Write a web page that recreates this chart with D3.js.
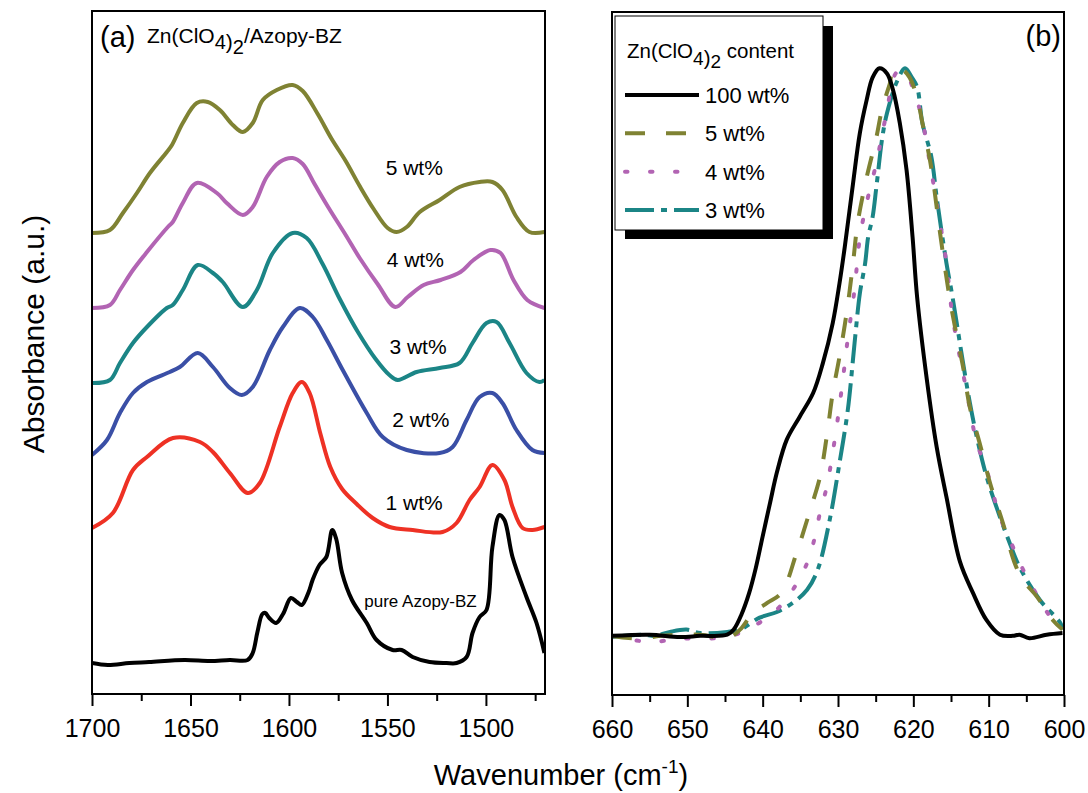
<!DOCTYPE html>
<html><head><meta charset="utf-8">
<script src="https://cdn.jsdelivr.net/npm/d3@7"></script>
<style>
body{margin:0;background:#fff}
svg{display:block}
text{font-family:"Liberation Sans",Arial,Helvetica,sans-serif;fill:#000}
</style>
</head><body>
<svg id="chart" width="1088" height="793"></svg>
<script>
// ---- Panel (a): stacked FTIR spectra, [wavenumber cm-1, absorbance a.u. incl. offset]
const purePoly = [[1700,0.31],[1692,0.29],[1681,0.31],[1671,0.32],[1653,0.34],[1640,0.33],[1630,0.34],[1621,0.34],[1618.4,0.41],[1616,0.62],[1613.5,0.80],[1612,0.81],[1610,0.76],[1606.5,0.71],[1603,0.80],[1599,0.96],[1596,0.92],[1593.5,0.89],[1590,1.02],[1588,1.14],[1584.5,1.29],[1581,1.37],[1578,1.64],[1576,1.55],[1573,1.21],[1568,0.94],[1560.5,0.71],[1555.5,0.54],[1547.4,0.44],[1542.8,0.44],[1537.2,0.37],[1528.6,0.32],[1520,0.31],[1514.9,0.31],[1509.8,0.37],[1506.8,0.61],[1503.2,0.77],[1499.7,0.84],[1496.7,1.47],[1493.1,1.79],[1490.6,1.74],[1486.5,1.37],[1479.4,0.97],[1474.3,0.71],[1470.3,0.41]];
const wt1 = [[1700,1.66],[1689.4,1.81],[1679.2,2.24],[1672.1,2.37],[1658.9,2.56],[1645.2,2.52],[1638.6,2.42],[1630,2.21],[1620.9,2.01],[1614.8,2.11],[1604.7,2.67],[1598.1,3.01],[1593.5,3.12],[1589.5,3.01],[1584,2.60],[1579,2.27],[1573,2.05],[1565.6,1.90],[1557.5,1.76],[1548.9,1.67],[1537.2,1.64],[1522,1.62],[1514.9,1.71],[1508.3,1.94],[1503.2,2.07],[1496.7,2.29],[1490.6,2.14],[1486.5,1.87],[1481.4,1.66],[1476.4,1.64],[1470.3,1.67]];
const wt2 = [[1700,2.39],[1692.4,2.54],[1685.8,2.81],[1679.2,3.01],[1672.1,3.12],[1660.5,3.22],[1655.4,3.27],[1646.3,3.41],[1638.6,3.27],[1630,3.06],[1623.9,2.99],[1618.4,3.07],[1609.7,3.44],[1603.1,3.67],[1594.5,3.86],[1587.9,3.77],[1580.8,3.54],[1572.7,3.24],[1560.5,2.81],[1552.4,2.57],[1540.2,2.44],[1523.5,2.41],[1516.9,2.47],[1509.8,2.74],[1503.2,2.97],[1496.7,3.01],[1491.6,2.91],[1484.5,2.64],[1476.4,2.44],[1470.3,2.41]];
const wt3 = [[1700,3.11],[1690.9,3.14],[1685.8,3.31],[1679.2,3.51],[1672.1,3.67],[1662,3.86],[1659,3.89],[1653.9,4.04],[1646.3,4.29],[1638.6,4.21],[1633.6,4.12],[1623.4,3.87],[1616.3,4.04],[1608.2,4.41],[1598.1,4.61],[1591,4.56],[1582.9,4.30],[1574.2,3.95],[1565,3.62],[1556,3.35],[1549,3.19],[1544.8,3.14],[1535.2,3.22],[1523.5,3.26],[1513.4,3.31],[1506.8,3.51],[1499.7,3.71],[1494.6,3.72],[1488,3.51],[1479.4,3.21],[1472.8,3.12],[1470.3,3.14]];
const wt4 = [[1700,3.86],[1690.9,3.89],[1685.8,4.04],[1679.2,4.24],[1672.1,4.42],[1661.5,4.67],[1659,4.72],[1653.9,4.91],[1646.8,5.11],[1636.6,5.01],[1631.6,4.91],[1623.4,4.79],[1618.4,4.87],[1611.3,5.17],[1604.7,5.32],[1598.1,5.36],[1593,5.30],[1587,5.10],[1579.8,4.86],[1571.2,4.59],[1564.1,4.36],[1555,4.10],[1546,3.87],[1539.7,3.97],[1531.6,4.09],[1523,4.14],[1512.9,4.22],[1506.3,4.34],[1497.7,4.44],[1492.6,4.41],[1486,4.14],[1479,3.94],[1470.3,3.86]];
const wt5 = [[1700,4.61],[1690.9,4.64],[1684.3,4.81],[1677.2,5.01],[1670.6,5.21],[1662,5.42],[1659.4,5.49],[1653.9,5.71],[1646.8,5.91],[1641.2,5.92],[1635.1,5.84],[1628.5,5.69],[1623.4,5.62],[1618.4,5.71],[1613.3,5.94],[1606.2,6.04],[1598.1,6.09],[1593,6.03],[1585.4,5.80],[1578.3,5.55],[1571.2,5.33],[1564.1,5.08],[1557,4.85],[1549.9,4.66],[1545.3,4.62],[1540.2,4.67],[1533.6,4.82],[1523.5,4.94],[1513.4,5.07],[1503.2,5.12],[1496.7,5.12],[1491.6,5.04],[1484.5,4.77],[1477.9,4.62],[1470.3,4.62]];

const seriesA = [
  {name:"pure Azopy-BZ", data:purePoly, color:"#000000", label:[1533.2,0.87], size:17, anchor:"middle"},
  {name:"1 wt%", data:wt1, color:"#ee3124", label:[1551,1.84], size:21, anchor:"start"},
  {name:"2 wt%", data:wt2, color:"#3a4fa6", label:[1547.5,2.67], size:21, anchor:"start"},
  {name:"3 wt%", data:wt3, color:"#1b8586", label:[1549,3.40], size:21, anchor:"start"},
  {name:"4 wt%", data:wt4, color:"#b264b3", label:[1550.4,4.27], size:21, anchor:"start"},
  {name:"5 wt%", data:wt5, color:"#7f8233", label:[1550.9,5.19], size:21, anchor:"start"}
];
const ticksA = [1700,1650,1600,1550,1500];
const minorA = [1675,1625,1575,1525,1475];

// ---- Panel (b): normalised band, [wavenumber cm-1, normalised absorbance]
const b100 = [[660,0],[655,0.002],[651,-0.002],[648.3,0],[644.7,0.002],[643.8,0.012],[642.8,0.038],[641.8,0.075],[640.9,0.120],[640,0.175],[639,0.235],[638.1,0.288],[636.8,0.345],[635.1,0.385],[633.3,0.427],[632,0.480],[630.7,0.550],[629.8,0.620],[629.1,0.684],[628,0.796],[627.1,0.884],[626.2,0.942],[625.4,0.982],[624.5,0.998],[623.5,0.989],[622.7,0.960],[621.8,0.902],[620.9,0.819],[620.1,0.701],[619.5,0.596],[618.2,0.450],[616.9,0.332],[615.6,0.244],[613.8,0.130],[612.1,0.076],[610.3,0.028],[608.5,0.002],[606.8,0],[605.9,0.002],[604.6,-0.004],[602.3,0.002],[600.2,0.005]];
const b5 = [[660,0],[656.3,-0.005],[653.6,0],[648.3,0.002],[644.7,-0.004],[643,0.011],[641.3,0.040],[639.4,0.058],[637.5,0.076],[635.5,0.146],[633.7,0.221],[632.4,0.279],[631.5,0.350],[630.7,0.427],[629.8,0.491],[628.8,0.573],[628,0.656],[627.4,0.725],[626.2,0.806],[624.9,0.877],[624.1,0.930],[623.1,0.972],[622.7,0.998],[621.4,0.995],[620.5,0.982],[619.5,0.947],[618.8,0.902],[617.8,0.837],[617.2,0.784],[616.5,0.713],[615.2,0.596],[614.2,0.525],[613.4,0.473],[612.5,0.402],[611.2,0.339],[609.8,0.268],[608.1,0.198],[606.6,0.130],[605.5,0.099],[603.6,0.069],[601.5,0.028],[600.2,0.011]];
const b4 = [[660,0],[657.9,-0.005],[655,-0.011],[651,-0.005],[644.7,-0.002],[641.7,0.014],[638.6,0.040],[636,0.081],[634.1,0.128],[633.1,0.172],[632.4,0.216],[631.5,0.262],[630.4,0.348],[629.5,0.435],[628.7,0.523],[627.8,0.610],[627.1,0.700],[626.2,0.761],[624.9,0.832],[624.2,0.878],[623.5,0.924],[622.9,0.965],[622.2,0.991],[621.1,0.991],[620.1,0.965],[618.9,0.912],[617.8,0.831],[616.5,0.730],[615.6,0.655],[614.8,0.562],[612.9,0.428],[611.6,0.341],[610.3,0.293],[608.5,0.209],[607,0.163],[605.6,0.121],[603.6,0.072],[601.5,0.028],[600.2,0.014]];
const b3 = [[660,-0.002],[655.9,0.002],[654.3,0],[652.3,0.007],[650.1,0.011],[648.3,0.005],[644.7,0.007],[643,0.011],[640.4,0.032],[638.1,0.042],[636,0.058],[634.1,0.081],[632.7,0.116],[631.1,0.204],[629.8,0.304],[628.7,0.397],[627.8,0.515],[627.1,0.602],[626.4,0.655],[626,0.701],[625.4,0.737],[624.9,0.790],[624.1,0.878],[623.5,0.919],[622.2,0.974],[621.1,0.998],[620.2,0.982],[619.5,0.965],[618.8,0.902],[617.6,0.842],[616.9,0.771],[615.6,0.655],[614.8,0.596],[613.4,0.480],[612.5,0.410],[611.6,0.351],[610.3,0.281],[608.5,0.209],[607.2,0.163],[605.9,0.121],[603.2,0.063],[600.5,0.023],[600.2,0.011]];

const seriesB = [
  {name:"100 wt%", data:b100, color:"#000000", dash:null, cap:"butt"},
  {name:"5 wt%", data:b5, color:"#7f8233", dash:"20,21", cap:"butt"},
  {name:"4 wt%", data:b4, color:"#b264b3", dash:"2.5,22.5", cap:"round"},
  {name:"3 wt%", data:b3, color:"#1b8586", dash:"29,7,6,7", cap:"butt"}
];
const ticksB = [660,650,640,630,620,610,600];
const minorB = [655,645,635,625,615,605];

const svg = d3.select("#chart");
const FONT = '"Liberation Sans",Arial,Helvetica,sans-serif';

// scales
const xA = d3.scaleLinear().domain([1700,1470]).range([92,545]);
const yA = d3.scaleLinear().domain([0,6.83]).range([694,11]);
const xB = d3.scaleLinear().domain([660,600]).range([612,1064]);
const yB = d3.scaleLinear().domain([-0.104,1.097]).range([695,12]);

function drawAxis(xs, yBottom, majors, minors){
  const gMaj = svg.append("g").attr("transform",`translate(0,${yBottom})`)
    .call(d3.axisBottom(xs).tickValues(majors).tickSize(12).tickSizeOuter(0).tickPadding(13).tickFormat(d3.format("d")));
  gMaj.select(".domain").remove();
  gMaj.selectAll("line").attr("stroke","#000").attr("stroke-width",2);
  gMaj.selectAll("text").attr("font-size",25).attr("font-family",FONT).attr("fill","#000");
  const gMin = svg.append("g").attr("transform",`translate(0,${yBottom})`)
    .call(d3.axisBottom(xs).tickValues(minors).tickSize(7).tickSizeOuter(0).tickFormat(""));
  gMin.select(".domain").remove();
  gMin.selectAll("line").attr("stroke","#000").attr("stroke-width",2);
}

// ---- panel (a)
svg.append("clipPath").attr("id","clipA").append("rect")
  .attr("x",92).attr("y",11).attr("width",545-92).attr("height",694-11);
const lineA = d3.line().x(d=>xA(d[0])).y(d=>yA(d[1])).curve(d3.curveCatmullRom.alpha(0.5));
const gA = svg.append("g").attr("clip-path","url(#clipA)");
seriesA.forEach(s=>{
  gA.append("path").datum(s.data).attr("d",lineA).attr("fill","none")
    .attr("stroke",s.color).attr("stroke-width",4).attr("stroke-linejoin","round");
});
seriesA.forEach(s=>{
  svg.append("text").attr("x",xA(s.label[0])).attr("y",yA(s.label[1]))
    .attr("text-anchor",s.anchor).attr("font-size",s.size).text(s.name);
});
svg.append("rect").attr("x",92).attr("y",11).attr("width",545-92).attr("height",694-11)
  .attr("fill","none").attr("stroke","#000").attr("stroke-width",2);
drawAxis(xA,694,ticksA,minorA);

svg.append("text").attr("x",100).attr("y",47).attr("font-size",29).text("(a)");
const tA = svg.append("text").attr("x",147).attr("y",43).attr("font-size",21);
tA.append("tspan").text("Zn(ClO");
tA.append("tspan").attr("dy",6).attr("font-size",20).text("4");
tA.append("tspan").text(")");
tA.append("tspan").attr("dy",5).attr("font-size",20).text("2");
tA.append("tspan").attr("dy",-11).text("/Azopy-BZ");

// ---- panel (b)
svg.append("clipPath").attr("id","clipB").append("rect")
  .attr("x",612).attr("y",12).attr("width",1064-612).attr("height",695-12);
const lineB = d3.line().x(d=>xB(d[0])).y(d=>yB(d[1])).curve(d3.curveCatmullRom.alpha(0.5));
const gB = svg.append("g").attr("clip-path","url(#clipB)");
seriesB.slice().reverse().forEach(s=>{
  const p = gB.append("path").datum(s.data).attr("d",lineB).attr("fill","none")
    .attr("stroke",s.color).attr("stroke-width",4).attr("stroke-linecap",s.cap).attr("stroke-linejoin","round");
  if (s.dash) p.attr("stroke-dasharray",s.dash);
});
svg.append("rect").attr("x",612).attr("y",12).attr("width",1064-612).attr("height",695-12)
  .attr("fill","none").attr("stroke","#000").attr("stroke-width",2);
drawAxis(xB,695,ticksB,minorB);
svg.append("text").attr("x",1061).attr("y",46).attr("text-anchor","end").attr("font-size",29).text("(b)");

// legend with drop shadow
const lg = svg.append("g");
lg.append("rect").attr("x",625).attr("y",26).attr("width",208).attr("height",213).attr("fill","#000");
lg.append("rect").attr("x",615).attr("y",16).attr("width",208).attr("height",214).attr("fill","#fff").attr("stroke","#000").attr("stroke-width",1);
const tB = lg.append("text").attr("x",627).attr("y",58).attr("font-size",20.5);
tB.append("tspan").text("Zn(ClO");
tB.append("tspan").attr("dy",7).attr("font-size",19).text("4");
tB.append("tspan").text(")");
tB.append("tspan").attr("dy",3).attr("font-size",19).text("2");
tB.append("tspan").attr("dy",-10).text(" content");
const rowY = d3.scalePoint().domain(seriesB.map(s=>s.name)).range([95,210]);
seriesB.forEach(s=>{
  const y = rowY(s.name);
  const l = lg.append("line").attr("x1",625).attr("x2",699).attr("y1",y).attr("y2",y)
    .attr("stroke",s.color).attr("stroke-width",4).attr("stroke-linecap",s.cap);
  if (s.dash) l.attr("stroke-dasharray",s.dash);
  lg.append("text").attr("x",705).attr("y",y+8).attr("font-size",22).text(s.name);
});

// shared axis titles
svg.append("text").attr("transform","translate(44,334) rotate(-90)").attr("text-anchor","middle")
  .attr("font-size",30).text("Absorbance (a.u.)");
const xt = svg.append("text").attr("x",561).attr("y",785).attr("text-anchor","middle").attr("font-size",29);
xt.append("tspan").text("Wavenumber (cm");
xt.append("tspan").attr("dy",-12).attr("font-size",19).text("-1");
xt.append("tspan").attr("dy",12).text(")");
</script>
</body></html>
